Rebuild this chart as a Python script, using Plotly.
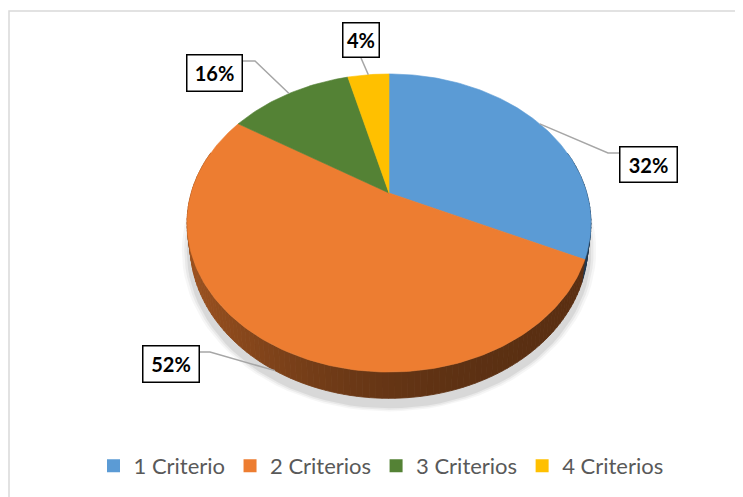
import math
import plotly.graph_objects as go

# ---- data ----
categories = ["1 Criterio", "2 Criterios", "3 Criterios", "4 Criterios"]
values = [8, 13, 3, 1]
label_text = ["32%", "52%", "16%", "4%"]

# ---- styles ----
colors = ["#5B9BD5", "#ED7D31", "#548235", "#FFC000"]
label_box_center = [(648.5, 164.5), (171, 364), (214.5, 73), (361, 40)]
label_box_size = [(59, 37), (58, 38), (57, 38), (38, 36)]
leader_elbow = [[(608, 153), (619, 153)], [(210, 352), (200, 352)],
                [(255, 61), (243, 61)], [(361, 58)]]
leader_on_wall = [False, True, False, False]

# page offset (html body margin) so that data units == screen pixels
OFF = 8
FIG_W, FIG_H = 743 - OFF, 497 - OFF

# pie geometry (pixel space, perspective projection)
CX, CY = 389.0, 193.0
A, B, K = 197.8, 143.0, 0.2013
D = 21.0
BOTTOM_SHRINK = 0.985


def proj(theta_deg, drop=0.0, s=1.0):
    t = math.radians(theta_deg)
    u = math.sin(t) * s
    w = -math.cos(t) * s
    den = 1 - K * w
    hs = BOTTOM_SHRINK if drop > 0 else 1.0
    return CX + A * hs * u / den, CY + (B * w + drop) / den


def hex_rgb(h):
    h = h.lstrip("#")
    return tuple(int(h[i:i + 2], 16) for i in (0, 2, 4))


def scale_col(h, f):
    r, g, b = hex_rgb(h)
    return "rgb(%d,%d,%d)" % (min(255, r * f), min(255, g * f), min(255, b * f))


total = sum(values)
starts, ends = [], []
acc = 0.0
for v in values:
    starts.append(acc / total * 360)
    acc += v
    ends.append(acc / total * 360)

fig = go.Figure()

# soft shadow
for i, (s, op) in enumerate([(1.04, 0.035), (1.028, 0.05), (1.016, 0.07)]):
    xs, ys = [], []
    for a in range(0, 361, 3):
        x, y = proj(a, D + 3 + i, s)
        xs.append(x)
        ys.append(y)
    fig.add_trace(go.Scatter(x=xs, y=ys, fill="toself", mode="lines",
                             line=dict(width=0), fillcolor="rgba(0,0,0,%g)" % op,
                             hoverinfo="skip", showlegend=False))

# walls
xmin, xmax = CX - A * 1.02, CX + A * 1.02
for i, v in enumerate(values):
    a1, a2 = starts[i], ends[i]
    n = max(2, int((a2 - a1) / 1.5))
    step = (a2 - a1) / n
    for j in range(n):
        b1 = a1 + j * step
        b2 = b1 + step
        mid = (b1 + b2) / 2
        if math.cos(math.radians(mid)) > 0.3:
            continue
        p1 = proj(b1)
        p2 = proj(b2)
        q2 = proj(b2, D)
        q1 = proj(b1, D)
        tx = ((p1[0] + p2[0]) / 2 - xmin) / (xmax - xmin)
        tx = min(1, max(0, tx))
        f = 0.38 + 0.28 * (1 - tx) ** 2.5
        c = scale_col(colors[i], f)
        fig.add_trace(go.Scatter(x=[p1[0], p2[0], q2[0], q1[0], p1[0]],
                                 y=[p1[1], p2[1], q2[1], q1[1], p1[1]],
                                 fill="toself", mode="lines",
                                 line=dict(width=0.8, color=c), fillcolor=c,
                                 hoverinfo="skip", showlegend=False))

# top faces
for i, v in enumerate(values):
    a1, a2 = starts[i], ends[i]
    n = max(4, int((a2 - a1) / 1.0))
    xs, ys = [CX], [CY]
    for j in range(n + 1):
        x, y = proj(a1 + (a2 - a1) * j / n)
        xs.append(x)
        ys.append(y)
    xs.append(CX)
    ys.append(CY)
    fig.add_trace(go.Scatter(x=xs, y=ys, fill="toself", mode="lines",
                             line=dict(width=0.6, color=colors[i]),
                             fillcolor=colors[i], hoverinfo="skip",
                             showlegend=False))

# leader lines + labels
for i, v in enumerate(values):
    mid = (starts[i] + ends[i]) / 2
    ax, ay = proj(mid, D if leader_on_wall[i] else 0)
    pts = [(ax, ay)] + leader_elbow[i]
    fig.add_trace(go.Scatter(x=[p[0] for p in pts], y=[p[1] for p in pts],
                             mode="lines", line=dict(color="#A6A6A6", width=1.5),
                             hoverinfo="skip", showlegend=False))
    cx, cy = label_box_center[i]
    bw, bh = label_box_size[i]
    fig.add_annotation(x=cx, y=cy, xref="x", yref="y", text="<b>%s</b>" % label_text[i],
                       showarrow=False, font=dict(family="Lato", size=20, color="#000000"),
                       bgcolor="#FFFFFF", bordercolor="#000000", borderwidth=1.5,
                       borderpad=0, width=bw - 3, height=bh - 3,
                       xanchor="center", yanchor="middle", align="center", valign="middle")

# legend entries
for i, cat in enumerate(categories):
    fig.add_trace(go.Scatter(x=[None], y=[None], mode="markers", name=cat,
                             marker=dict(symbol="square", size=13, color=colors[i])))

fig.add_shape(type="rect", xref="x", yref="y", x0=9, y0=11, x1=760, y1=520,
              line=dict(color="#D9D9D9", width=1.5), layer="below")

fig.update_layout(
    width=FIG_W, height=FIG_H,
    margin=dict(l=0, r=0, t=0, b=0),
    paper_bgcolor="#FFFFFF", plot_bgcolor="#FFFFFF",
    xaxis=dict(range=[OFF, OFF + FIG_W], visible=False, fixedrange=True),
    yaxis=dict(range=[OFF + FIG_H, OFF], visible=False, fixedrange=True),
    showlegend=True,
    legend=dict(orientation="h", x=(381 - OFF) / FIG_W, xanchor="center",
                y=1 - (466 - OFF) / FIG_H, yanchor="middle",
                font=dict(family="Lato", size=22, color="#595959"),
                itemclick=False, itemdoubleclick=False, bgcolor="rgba(0,0,0,0)"),
)

fig.write_html("out.html")
